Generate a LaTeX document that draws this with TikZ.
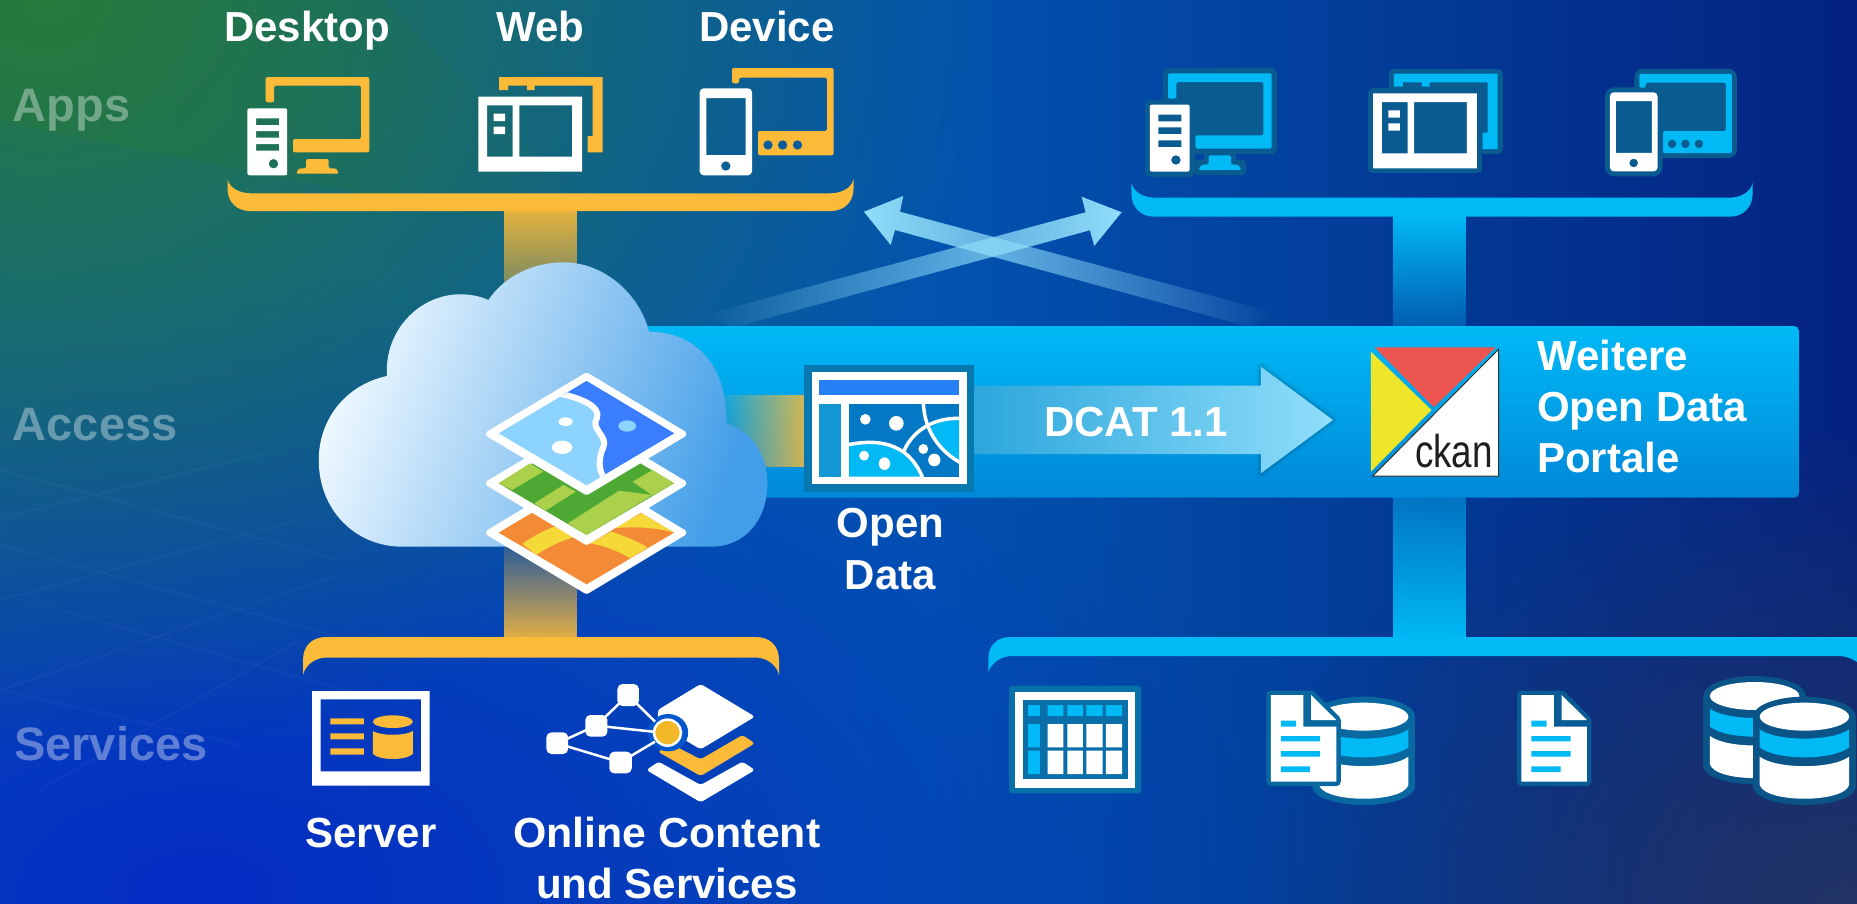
\documentclass[tikz,border=0pt]{standalone}
\usepackage{fontspec}
\setmainfont{Liberation Sans}
\usetikzlibrary{fadings}
\definecolor{amber}{HTML}{FBBB38}
\definecolor{cyanc}{HTML}{00B9F5}
\definecolor{halo}{HTML}{0A5C90}
\definecolor{sky}{HTML}{90DEFA}
\definecolor{bgl}{RGB}{8,92,178}
\definecolor{bgm}{RGB}{2,84,176}
\definecolor{bgr}{RGB}{4,34,128}
\definecolor{bgnavy}{RGB}{34,52,100}
\definecolor{bgblue}{RGB}{4,44,196}
\definecolor{bggreen}{RGB}{38,122,62}
\definecolor{bggreenb}{RGB}{38,122,56}
\definecolor{bandb}{RGB}{0,136,216}
\definecolor{cloudl}{RGB}{240,249,255}
\definecolor{cloudr}{RGB}{66,158,232}
\definecolor{orangel}{RGB}{242,138,54}
\definecolor{yellowl}{RGB}{245,217,56}
\definecolor{greend}{RGB}{78,168,52}
\definecolor{limel}{RGB}{170,208,76}
\definecolor{lightb}{RGB}{141,211,255}
\definecolor{riverb}{RGB}{59,125,255}
\definecolor{oframe}{RGB}{8,120,176}
\definecolor{obar}{RGB}{38,128,245}
\definecolor{opanel}{RGB}{18,150,212}
\definecolor{omap}{RGB}{4,120,196}
\definecolor{arrowl}{RGB}{44,166,220}
\definecolor{arrowr}{RGB}{144,222,250}
\definecolor{ckred}{RGB}{236,85,80}
\definecolor{ckyel}{RGB}{238,230,40}
\definecolor{ckedge}{RGB}{50,50,50}
\definecolor{cktext}{RGB}{30,30,30}
\definecolor{hubbg}{RGB}{5,88,204}
\definecolor{hubc}{RGB}{242,184,40}
\definecolor{tabh}{RGB}{8,112,168}
\definecolor{tabi}{RGB}{10,110,168}
\definecolor{haloa}{RGB}{10,104,160}
\definecolor{halob}{RGB}{10,90,150}
\definecolor{haloc}{RGB}{10,84,136}
\tikzfading[name=fadeleft, left color=transparent!100, right color=transparent!0]
\tikzfading[name=faderight, left color=transparent!0, right color=transparent!100]
\tikzfading[name=fadedown, top color=transparent!10, bottom color=transparent!90]
\tikzfading[name=fadeup, top color=transparent!90, bottom color=transparent!10]
\tikzfading[name=fadedownb, top color=transparent!0, bottom color=transparent!75]
\tikzfading[name=fadeupb, top color=transparent!55, bottom color=transparent!0]
\tikzfading[name=radfade, inner color=transparent!0, outer color=transparent!100]
\tikzset{
 lbl/.style={font=\fontsize{42}{50}\selectfont\bfseries, text=white, inner sep=0pt, anchor=base},
 side/.style={font=\fontsize{47}{50}\selectfont\bfseries, text=white, text opacity=.36, inner sep=0pt, anchor=base west},
 amberset/.style={iacc/.style={fill=amber}, ihalo/.style={draw=none,fill=none}},
 cyanset/.style={iacc/.style={fill=cyanc}, ihalo/.style={draw=halo,fill=halo,line width=10pt,line join=round}},
 wh/.style={fill=white},
 gridln/.style={draw=white,opacity=.028,line width=2.5pt},
 ring/.style={draw=white,line width=3.5pt},
 tile/.style={fill=white,draw=white,line width=6pt,line join=round},
}
% ---- icons, in reference pixels
\newcommand\desktopicon[1]{\begin{scope}[#1]
 \path[ihalo] (265.6,77) rectangle (369.3,152.3);
 \path[ihalo] (306.2,159) rectangle (328.6,168.3) (296,168.3) rectangle (339,173.7);
 \path[ihalo] (247.4,108.3) rectangle (287.2,175.3);
 \fill[iacc,rounded corners=2pt] (265.6,102.3) -- (265.6,77) -- (369.3,77) -- (369.3,152.3) -- (293,152.3) -- (293,139) -- (361,139) -- (361,85.7) -- (274,85.7) -- (274,102.3) -- cycle;
 \fill[iacc,rounded corners=1.5pt] (306.2,159) -- (328.6,159) -- (328.6,168.3) -- (336,168.3) -- (339,173.7) -- (296,173.7) -- (299,168.3) -- (306.2,168.3) -- cycle;
 \fill[wh,even odd rule] [rounded corners=2pt] (247.4,108.3) rectangle (287.2,175.3) [sharp corners] (256,118.3) rectangle (279,125) (256,131) rectangle (279,137.7) (256,144) rectangle (279,150.7) (273.5,163.7) circle [radius=4.8];
\end{scope}}
\newcommand\webicon[1]{\begin{scope}[#1]
 \path[ihalo] (499,77) rectangle (602.7,152.3);
 \path[ihalo] (478.3,96.7) rectangle (582,171.7);
 \fill[iacc] (499,90) -- (499,77) -- (602.7,77) -- (602.7,152.3) -- (587.7,152.3) -- (587.7,136) -- (592.7,136) -- (592.7,85.7) -- (534.7,85.7) -- (534.7,90) -- (527,90) -- (527,85.7) -- (508,85.7) -- (508,90) -- cycle;
 \fill[wh,even odd rule] (478.3,96.7) rectangle (582,171.7) (487,105.3) rectangle (512.7,156.7) (519.3,105.3) rectangle (572,156.7);
 \fill[wh] (493.6,113.7) rectangle (505,121) (493.6,126.7) rectangle (505,134);
\end{scope}}
\newcommand\deviceicon[1]{\begin{scope}[#1]
 \path[ihalo,rounded corners=3pt] (732,68) rectangle (833.6,155.3);
 \path[ihalo,rounded corners=4pt] (699.7,88.3) rectangle (752,175.3);
 \fill[iacc,even odd rule,rounded corners=2pt] (732,83.3) -- (732,68) -- (833.6,68) -- (833.6,155.3) -- (758,155.3) -- (758,131) -- (827,131) -- (827,77.7) -- (739,77.7) -- (739,83.3) -- cycle [sharp corners] (768,145) circle [radius=4.8] (782.6,145) circle [radius=4.8] (797.5,145) circle [radius=4.8];
 \fill[wh,even odd rule] [rounded corners=4pt] (699.7,88.3) rectangle (752,175.3) [sharp corners] (706.3,98) rectangle (745.7,155) (725.8,166) circle [radius=4.8];
\end{scope}}
% ---- lower right icons, in zoom units
\newcommand\dbicon[3]{\begin{scope}[shift={(#1,#2)}]
 \fill[#3] (0,230) ellipse [x radius=92, y radius=60];
 \fill[#3] (-92,230) rectangle (92,440);
 \fill[#3] (0,440) ellipse [x radius=92, y radius=55];
 \fill[white] (0,230) ellipse [x radius=80, y radius=42];
 \fill[cyanc] (-80,268) .. controls (-50,305) and (50,305) .. (80,268) -- (80,322) .. controls (50,362) and (-50,362) .. (-80,322) -- cycle;
 \fill[white] (-80,350) .. controls (-50,388) and (50,388) .. (80,350) -- (80,435) .. controls (70,490) and (-70,490) .. (-80,435) -- cycle;
\end{scope}}
\newcommand\docicon[2]{\begin{scope}[shift={(#1,0)}]
 \fill[#2,draw=#2,line width=9pt,line join=round] (520,165) -- (592,165) -- (637,240) -- (637,425) -- (520,425) -- cycle;
 \fill[white] (520,165) -- (578,165) -- (578,260) -- (637,260) -- (637,425) -- (520,425) -- cycle;
 \fill[white] (592,165) -- (637,240) -- (592,240) -- cycle;
 \fill[cyanc] (538,242) rectangle (565,260) (538,288) rectangle (608,304) (538,333) rectangle (608,350) (538,379) rectangle (590,396);
\end{scope}}
\begin{document}
\begin{tikzpicture}[x=1pt,y=-1pt]
\useasboundingbox (0,0) rectangle (1857,903);
\clip (0,0) rectangle (1857,903);
% ---- background
\shade[left color=bgl, right color=bgr, middle color=bgm] (0,0) rectangle (1857,903);
\fill[bgnavy, path fading=radfade] (1250,420) rectangle (2450,1400);
\fill[bgblue, path fading=radfade] (-900,280) rectangle (1300,1500);
\fill[bggreen, path fading=radfade] (-900,-750) rectangle (1000,750);
\fill[bggreenb, opacity=.4, path fading=faderight] (-10,-5) -- (377,-5) -- (640,250) -- (0,121) -- cycle;
% grid lines
\draw[gridln] (0,518) -- (270,452);
\draw[gridln] (0,600) -- (300,520);
\draw[gridln] (0,690) -- (340,575);
\draw[gridln] (40,790) -- (300,640);
\draw[gridln] (0,470) -- (340,560);
\draw[gridln] (0,545) -- (350,640);
\draw[gridln] (60,610) -- (380,700);
\draw[gridln] (0,690) -- (240,745);
% ---- double arrows
\fill[sky, path fading=fadeleft] (1121.7,212.3) -- (1081.7,196.7) -- (1085.7,212.3) -- (700,316) -- (735,327) -- (1090,230.3) -- (1094.3,246) -- cycle;
\fill[sky, path fading=faderight] (864,211.7) -- (903.3,196) -- (900,211.7) -- (1276.7,313.3) -- (1250,327) -- (895,230) -- (890.7,245) -- cycle;
% ---- stems
\fill[amber, path fading=fadedown] (504,211) rectangle (576.7,340);
\fill[amber, path fading=fadeup] (504,540) rectangle (576.7,638);
\fill[cyanc, path fading=fadedownb] (1393,216) rectangle (1466,330);
\fill[cyanc, path fading=fadeupb] (1393,495) rectangle (1466,638);
% ---- band
\shade[top color=cyanc, bottom color=bandb, rounded corners=5pt] (600,326) rectangle (1799,497.7);
% ---- amber connector
\fill[amber, opacity=.85, path fading=fadeleft] (716,395) rectangle (806,466.7);
% ---- brackets
\fill[amber] (227.5,179) -- (227.5,189) .. controls (227.5,202) and (237,211) .. (250,211) -- (831,211) .. controls (844,211) and (853.5,202) .. (853.5,189) -- (853.5,179) .. controls (852,187) and (843,193.3) .. (830,193.3) -- (251,193.3) .. controls (238,193.3) and (229,187) .. (227.5,179) -- cycle;
\fill[cyanc] (1131.4,182.7) -- (1131.4,194) .. controls (1131.4,207) and (1141,216.7) .. (1154,216.7) -- (1730,216.7) .. controls (1743,216.7) and (1752.6,207) .. (1752.6,194) -- (1752.6,182.7) .. controls (1751,191) and (1742,197.7) .. (1729,197.7) -- (1155,197.7) .. controls (1142,197.7) and (1133,191) .. (1131.4,182.7) -- cycle;
\fill[amber] (303,675) -- (303,660) .. controls (303,646) and (312,637) .. (326,637) -- (756,637) .. controls (770,637) and (779,646) .. (779,660) -- (779,675) .. controls (777,666) and (768,657.5) .. (755,657.5) -- (327,657.5) .. controls (314,657.5) and (305,666) .. (303,675) -- cycle;
\fill[cyanc] (988.4,672) -- (988.4,658) .. controls (988.4,646) and (997,637) .. (1010,637) -- (1857,637) -- (1857,662) .. controls (1851,658) and (1845,656) .. (1838,656) -- (1012,656) .. controls (1000,656) and (991,664) .. (988.4,672) -- cycle;
% ---- cloud
\shade[left color=cloudl, right color=cloudr, shading angle=70] (402.7,546.7) .. controls (355,546.7) and (318.75,510) .. (318.75,460) .. controls (318.75,420) and (345,385) .. (387,376) .. controls (384,330) and (420,294) .. (460.7,294.3) .. controls (470,294.3) and (480,296) .. (488.4,300) .. controls (505,275) and (535,262.3) .. (563.4,262.3) .. controls (605,262.3) and (640,295) .. (649,331.7) .. controls (695,331.7) and (728,365) .. (726.3,423) .. controls (752,432) and (767.4,455) .. (767.4,483.3) .. controls (767.4,520) and (745,546.7) .. (710.7,546.7) -- cycle;
% ---- layers icon (zoom units)
\begin{scope}[shift={(300,250)},x=0.4464pt,y=-0.3333pt]
 \filldraw[tile] (642,673) -- (859,848) -- (642,1023) -- (423,848) -- cycle;
 \fill[orangel] (642,691) -- (838,848) -- (642,1003) -- (445,848) -- cycle;
 \begin{scope}
  \clip (642,691) -- (838,848) -- (642,1003) -- (445,848) -- cycle;
  \fill[yellowl] (498,882) .. controls (525,855) and (550,840) .. (570,830) -- (612,862) .. controls (580,875) and (550,895) .. (530,915) -- cycle;
  \fill[yellowl] (697,845) .. controls (730,860) and (760,875) .. (778,893) -- (740,925) .. controls (715,905) and (685,888) .. (650,880) -- cycle;
  \fill[yellowl] (765,790) -- (838,848) .. controls (790,830) and (740,830) .. (700,835) -- cycle;
 \end{scope}
 \filldraw[tile] (642,525) -- (859,700) -- (642,876) -- (423,700) -- cycle;
 \fill[greend] (642,545) -- (838,700) -- (642,855) -- (445,700) -- cycle;
 \fill[limel] (445,700) -- (515,640) -- (545,665) -- (475,720) -- cycle;
 \fill[limel] (525,760) -- (590,705) -- (618,725) -- (550,782) -- cycle;
 \fill[limel] (600,820) -- (715,722) -- (790,735) -- (642,855) -- cycle;
 \fill[limel] (745,695) -- (790,660) -- (838,700) -- (790,737) -- cycle;
 \filldraw[tile] (642,377) -- (859,552) -- (642,726) -- (423,552) -- cycle;
 \fill[lightb] (642,393) -- (838,550) -- (642,706) -- (445,550) -- cycle;
 \begin{scope}
  \clip (642,393) -- (838,550) -- (642,706) -- (445,550) -- cycle;
  \fill[riverb,draw=white,line width=6pt] (585,432) .. controls (630,445) and (675,470) .. (665,505) .. controls (650,535) and (690,560) .. (680,590) .. controls (670,620) and (665,660) .. (685,690) -- (900,700) -- (900,300) -- (585,300) -- cycle;
 \end{scope}
 \fill[white] (595,515) ellipse [x radius=16, y radius=13] (587,592) ellipse [x radius=23, y radius=20];
 \fill[lightb] (733,528) ellipse [x radius=20, y radius=17];
\end{scope}
% ---- open data icon (zoom units)
\begin{scope}[shift={(720,320)},x=0.4082pt,y=-0.3333pt]
 \fill[oframe] (206,135) rectangle (622,515);
 \fill[white] (225,157) rectangle (604,492);
 \fill[obar] (243,180) rectangle (586,225);
 \fill[opanel] (243,253) rectangle (296,470);
 \fill[omap] (316,252) rectangle (586,470);
 \begin{scope}
  \clip (316,252) rectangle (586,470);
  \fill[cyanc,ring] (300,378) .. controls (410,345) and (470,390) .. (497,475) -- (300,475) -- cycle;
  \fill[cyanc] (512,325) .. controls (535,305) and (560,298) .. (590,300) -- (590,425) .. controls (550,400) and (525,365) .. (512,325) -- cycle;
  \draw[ring] (498,245) .. controls (500,340) and (545,400) .. (592,430);
  \draw[ring] (450,395) .. controls (475,320) and (540,290) .. (592,296);
 \end{scope}
 \fill[white] (356,298) ellipse [x radius=13, y radius=16] (432,310) ellipse [x radius=18, y radius=22] (498,387) ellipse [x radius=12, y radius=15] (525,420) ellipse [x radius=15, y radius=19] (353,407) ellipse [x radius=12, y radius=15] (403,431) ellipse [x radius=14, y radius=19];
\end{scope}
% ---- DCAT arrow
\foreach \w/\o in {10/.03,6/.05,3/.07}{
 \draw[black,opacity=\o,line width=\w pt,line join=round] (1260.8,385.7) -- (1260.8,366.7) -- (1333,420) -- (1260.8,473.3) -- (1260.8,454);
}
\shade[left color=arrowl, right color=arrowr] (974,385.7) -- (1260.8,385.7) -- (1260.8,366.7) -- (1333,420) -- (1260.8,473.3) -- (1260.8,454) -- (974,454) -- cycle;
\node[lbl] (dcat) at (1136,436.7) {DCAT 1.1};
% ---- ckan logo
\fill[ckred] (1374.6,347.3) -- (1495.8,347.3) -- (1433.8,407.3) -- cycle;
\fill[ckyel] (1370.9,351.7) -- (1431.5,410) -- (1370.9,471.7) -- cycle;
\fill[white,draw=ckedge,line width=1pt] (1498.5,349.3) -- (1498.5,476) -- (1372.7,476) -- cycle;
\node[font=\fontsize{46}{50}\selectfont, text=cktext, inner sep=0pt, anchor=base east] (ckan) at (1493,467) {\scalebox{0.8}[1]{ckan}};
\node[lbl,anchor=base west] (weitere) at (1537,370.7) {Weitere};
\node[lbl,anchor=base west] (opendata) at (1537,421.7) {Open Data};
\node[lbl,anchor=base west] (portale) at (1537,472.3) {Portale};
% ---- app icons
\desktopicon{amberset}
\webicon{amberset}
\deviceicon{amberset}
\desktopicon{cyanset,shift={(902.4,-3.7)}}
\webicon{cyanset,shift={(894.8,-3.3)}}
\deviceicon{cyanset,shift={(973.2,11.9)},scale=.91}
% ---- server icon (zoom units)
\begin{scope}[shift={(280,630)},x=0.3571pt,y=-0.3333pt]
 \fill[white,even odd rule] (90,183) rectangle (419,467) (114,208) rectangle (395,424);
 \fill[amber] (141,265) rectangle (235,283) (141,310) rectangle (235,328) (141,355) rectangle (235,374);
 \fill[amber] (316,275) ellipse [x radius=56, y radius=19];
 \fill[amber] (260,303) .. controls (280,318) and (352,318) .. (372,303) -- (372,372) .. controls (352,392) and (280,392) .. (260,372) -- cycle;
 % online content
 \fill[white,rounded corners=3pt] (1178,162) -- (1330,260) -- (1178,358) -- (1058,282) -- (1058,240) -- cycle;
 \fill[amber,rounded corners=3pt] (1058,365) -- (1100,345) -- (1178,388) -- (1295,315) -- (1330,340) -- (1178,438) -- cycle;
 \fill[white,rounded corners=3pt] (1026,420) -- (1060,395) -- (1178,465) -- (1295,395) -- (1330,420) -- (1178,517) -- cycle;
 \fill[hubbg] (1087,308) ellipse [x radius=56, y radius=56];
 \draw[white,line width=2.5pt] (975,195) -- (885,287) (975,195) -- (1050,275) (885,287) -- (1045,305) (776,340) -- (885,287) (776,340) -- (953,397) (953,397) -- (1050,335);
 \fill[white,rounded corners=5pt] (945,162) rectangle (1005,228) (855,255) rectangle (917,320) (746,307) rectangle (807,372) (922,365) rectangle (985,430);
 \fill[hubc,draw=white,line width=2.5pt] (1085,308) ellipse [x radius=38, y radius=39];
\end{scope}
\node[lbl] (desktop) at (307,41.7) {Desktop};
\node[lbl] (web) at (540.5,41.7) {Web};
\node[lbl] (device) at (767,41.7) {Device};
\node[lbl] (server) at (371,847.3) {Server};
\node[lbl] (online) at (666.8,847.3) {\scalebox{1.02}[1]{Online Content}};
\node[lbl] (und) at (666.8,898) {und Services};
\node[lbl] (open) at (890.5,537.3) {Open};
\node[lbl] (data) at (890.5,589) {Data};
\node[side] (apps) at (12.7,121) {Apps};
\node[side] (access) at (12.7,440.7) {Access};
\node[side] (services) at (14,760) {Services};
% ---- lower right icons (zoom units)
\begin{scope}[shift={(980,640)},x=0.5593pt,y=-0.3333pt]
 \fill[tabh,rounded corners=3pt] (52,137) rectangle (288,460);
 \fill[white] (63,155) rectangle (277,443);
 \fill[tabi] (77,180) rectangle (264,418);
 \fill[cyanc] (86,195) rectangle (107,228) (121,195) rectangle (149,228) (156,195) rectangle (184,228) (190,195) rectangle (219,228) (225,195) rectangle (254,228);
 \fill[cyanc] (86,252) rectangle (107,322) (86,332) rectangle (107,402);
 \fill[white] (121,252) rectangle (149,322) (156,252) rectangle (184,322) (190,252) rectangle (219,322) (225,252) rectangle (254,322);
 \fill[white] (121,332) rectangle (149,402) (156,332) rectangle (184,402) (190,332) rectangle (219,402) (225,332) rectangle (254,402);
 \dbicon{686}{0}{haloa}
 \docicon{0}{haloa}
 \docicon{448}{halob}
 \dbicon{1385}{-62}{haloc}
 \dbicon{1474}{0}{haloc}
\end{scope}
\end{tikzpicture}
\end{document}
